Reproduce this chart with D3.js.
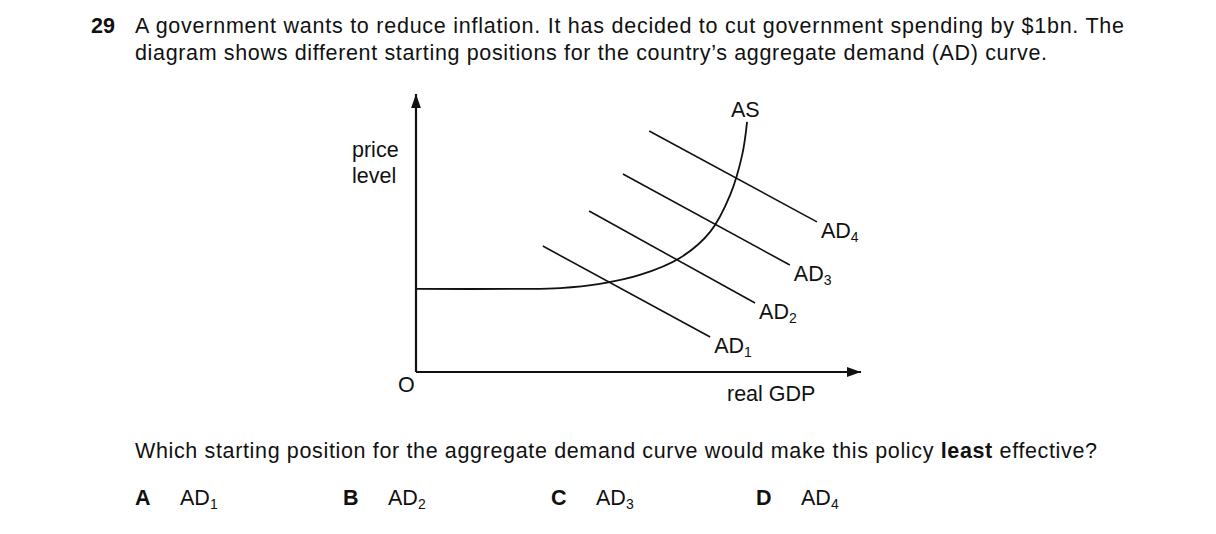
<!DOCTYPE html>
<html><head><meta charset="utf-8">
<script src="https://cdn.jsdelivr.net/npm/d3@7"></script>
<style>
body{margin:0;background:#fff}
text{font-family:"Liberation Sans",Arial,sans-serif;fill:#111}
</style></head>
<body><svg width="1216" height="534"></svg>
<script>
// data in chart units (0-100 on both axes)
const asCurve = [[0,29.9],[23.4,29.9],[32.4,30.2],[41.3,31.7],[50.3,34.9],[59.3,41.0],[66.1,50.4],[70.6,63.7],[73.3,78.1],[74.4,90.0]]
const adNames = ["1","2","3","4"]
const adLines = [
    [[28.5,45.3],[66.1,12.6]],
    [[38.9,57.9],[76.2,24.8]],
    [[46.5,71.2],[84.0,38.5]],
    [[52.4,86.7],[90.1,54.0]]
]
const options = [["A","1"],["B","2"],["C","3"],["D","4"]]

const svg = d3.select('svg')
const x = d3.scaleLinear().domain([0,100]).range([416,861])
const y = d3.scaleLinear().domain([0,100]).range([372,94])
const fs = '21.5px'

// header
svg.append('text').attr('x',91).attr('y',33).style('font-size',fs).attr('font-weight','bold').text('29')
svg.append('text').attr('x',135).attr('y',33).style('font-size',fs).attr('textLength',989).attr('lengthAdjust','spacing')
    .text('A government wants to reduce inflation. It has decided to cut government spending by $1bn. The')
svg.append('text').attr('x',135).attr('y',60).style('font-size',fs).attr('textLength',912).attr('lengthAdjust','spacing')
    .text('diagram shows different starting positions for the country\u2019s aggregate demand (AD) curve.')

// axes
svg.append('defs').append('marker').attr('id','arr').attr('viewBox','0 0 10 10')
    .attr('refX',10).attr('refY',5).attr('markerWidth',14).attr('markerHeight',14)
    .attr('markerUnits','userSpaceOnUse').attr('orient','auto')
    .append('path').attr('d','M0,1.5L10,5L0,8.5Z').attr('fill','#111')
svg.append('path').attr('d',`M${x(0)},${y(0)}V${y(100)}`).attr('stroke','#111').attr('stroke-width',2.2).attr('marker-end','url(#arr)')
svg.append('path').attr('d',`M${x(0)},${y(0)}H${x(100)}`).attr('stroke','#111').attr('stroke-width',2.2).attr('marker-end','url(#arr)')

const curve = d3.line().x(d=>x(d[0])).y(d=>y(d[1])).curve(d3.curveCatmullRom)
svg.append('path').attr('d',curve(asCurve)).attr('fill','none').attr('stroke','#111').attr('stroke-width',1.8)
const straight = d3.line().x(d=>x(d[0])).y(d=>y(d[1]))
adLines.forEach((l,i)=>{
    svg.append('path').attr('d',straight(l)).attr('fill','none').attr('stroke','#111').attr('stroke-width',1.6)
    const t = svg.append('text').attr('x',x(l[1][0])+4).attr('y',y(l[1][1])+16).style('font-size',fs)
    t.append('tspan').text('AD')
    t.append('tspan').attr('dy',4).style('font-size','14px').text(adNames[i])
})

svg.append('text').attr('x',731).attr('y',117).style('font-size',fs).text('AS')
svg.append('text').attr('x',352).attr('y',157).style('font-size',fs).text('price')
svg.append('text').attr('x',352).attr('y',183).style('font-size',fs).text('level')
svg.append('text').attr('x',398).attr('y',392).style('font-size',fs).text('O')
svg.append('text').attr('x',727).attr('y',401).style('font-size',fs).text('real GDP')

const q = svg.append('text').attr('x',135).attr('y',458).style('font-size',fs).attr('textLength',962).attr('lengthAdjust','spacing')
q.append('tspan').text('Which starting position for the aggregate demand curve would make this policy ')
q.append('tspan').attr('font-weight','bold').text('least')
q.append('tspan').text(' effective?')

const ox = [135,343,551,756]
options.forEach((o,i)=>{
    svg.append('text').attr('x',ox[i]).attr('y',505).style('font-size',fs).attr('font-weight','bold').text(o[0])
    const t = svg.append('text').attr('x',ox[i]+45).attr('y',505).style('font-size',fs)
    t.append('tspan').text('AD')
    t.append('tspan').attr('dy',4).style('font-size','14px').text(o[1])
})
</script></body></html>
